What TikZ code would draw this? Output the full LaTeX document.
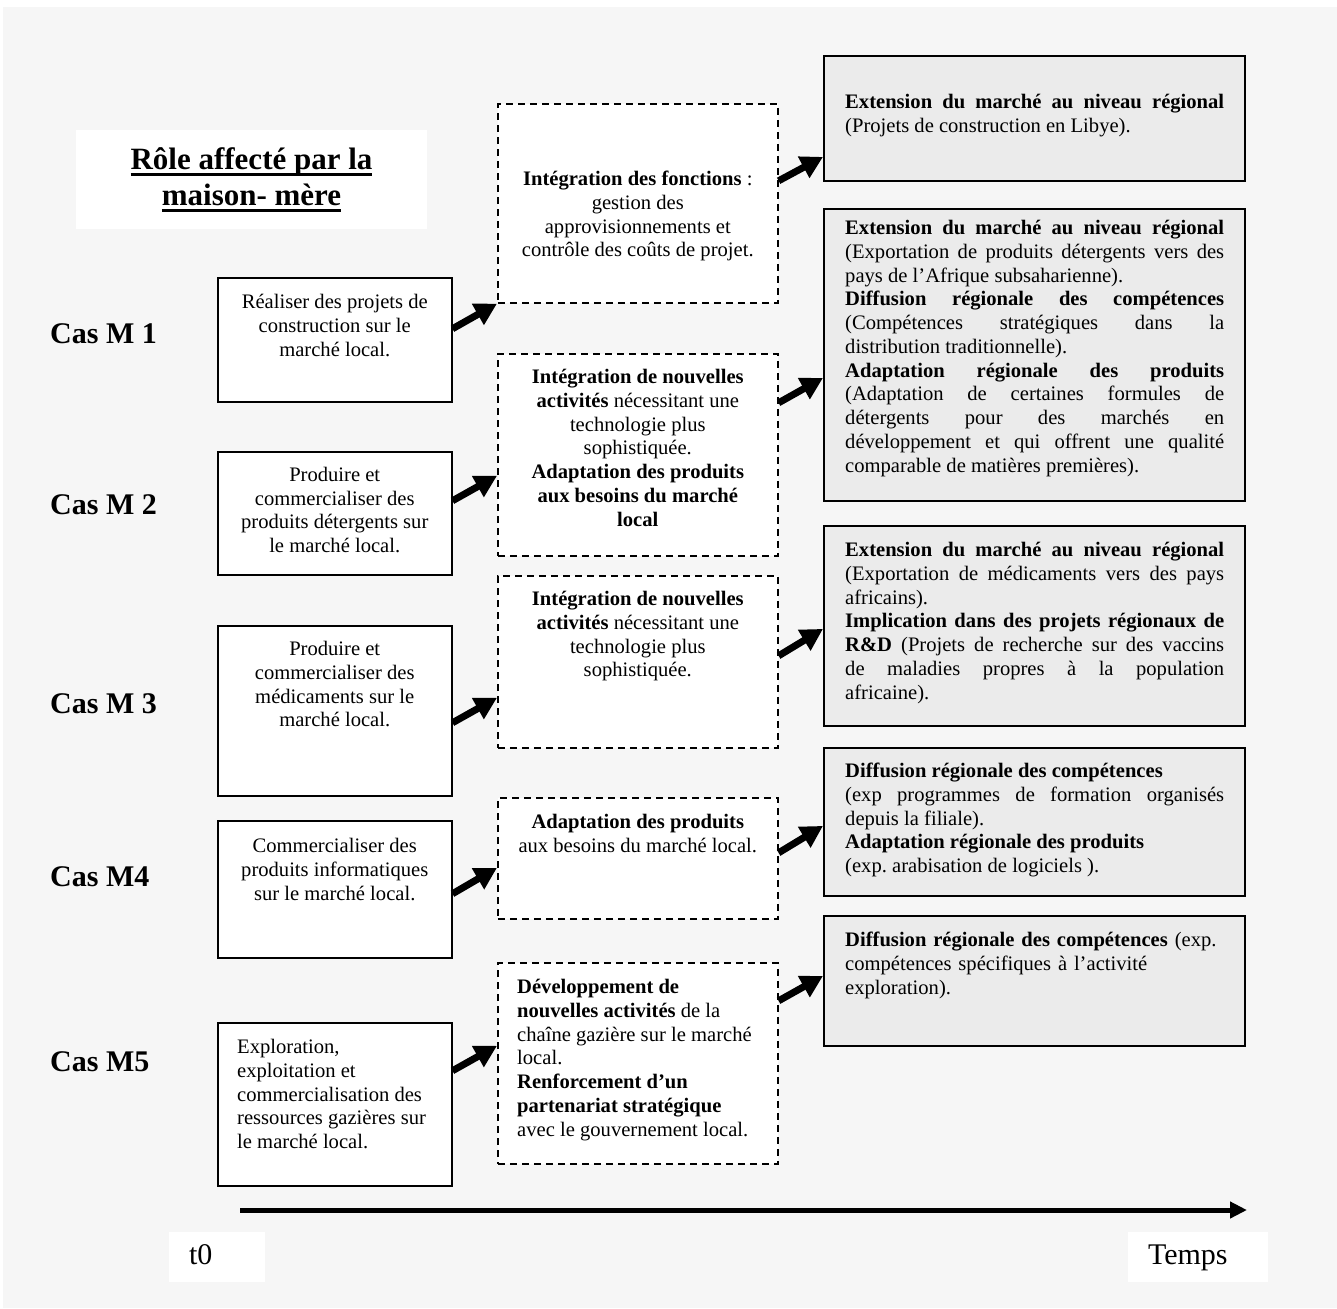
\documentclass[tikz,border=0pt]{standalone}
\usepackage{fontspec}
\setmainfont{Liberation Serif}
\usetikzlibrary{positioning}
\usetikzlibrary{arrows.meta}

\definecolor{pagegrey}{gray}{0.965}
\definecolor{boxgrey}{gray}{0.92}

\newcommand{\txtsize}{\fontsize{20.6}{23.75}\selectfont}
\newcommand{\bigsize}{\fontsize{30}{36}\selectfont}
\newcommand{\titlesize}{\fontsize{31}{36}\selectfont}
\newsavebox{\ulbox}
\newcommand{\ulined}[1]{\sbox{\ulbox}{#1}\rlap{\rule[-6.4pt]{\wd\ulbox}{2.2pt}}\usebox{\ulbox}}
\newcommand{\loosepar}{\tolerance=10000 \hyphenpenalty=10000\relax}
\frenchspacing

\begin{document}
\begin{tikzpicture}[x=1pt,y=-1pt]
	\tikzstyle{leftbox}=[draw,fill=white,line width=1.5pt,minimum width=234pt,anchor=north west,inner sep=0pt]
	\tikzstyle{midbox}=[draw,fill=white,line width=1.6pt,dash pattern=on 7pt off 5pt,minimum width=280pt,anchor=north west,inner sep=0pt]
	\tikzstyle{rightbox}=[draw,fill=boxgrey,line width=1.8pt,minimum width=421pt,anchor=north west,inner sep=0pt]
	\tikzstyle{boxtext}=[inner sep=0pt,font=\txtsize,align=center]
	\tikzstyle{lefttext}=[inner sep=0pt,font=\txtsize,align=left]
	\tikzstyle{regtext}=[inner sep=0pt,font=\txtsize\loosepar,text width=379pt,align=justify]
	\tikzstyle{caslabel}=[anchor=base west,inner sep=0pt,font=\bigsize\bfseries]
	\tikzstyle{timebox}=[fill=white,minimum height=50pt,inner xsep=20pt,align=left,font=\bigsize,text height=20pt,text depth=6pt]
	\tikzstyle{bigarrow}=[draw,line width=7pt,-{Triangle[length=22pt,width=23pt]}]
	\tikzstyle{timearrow}=[line width=5pt,-{Triangle[length=17pt,width=16pt]}]
	
	\useasboundingbox (0,0) rectangle (1337,1308);
	\fill[white] (0,0) rectangle (1337,1308);
	\fill[pagegrey] (3,7) rectangle (1337,1308);
	
	% titre
	\node[fill=white,minimum width=351pt,minimum height=99pt,inner sep=0pt,align=center,font=\titlesize\bfseries] (title) at (251.5,179.5)
		{\ulined{Rôle affecté par la}\\\ulined{maison- mère}};
	
	% cas
	\node[caslabel] (cas_1) at (50,343)  {Cas M 1};
	\node[caslabel] (cas_2) at (50,514)  {Cas M 2};
	\node[caslabel] (cas_3) at (50,713)  {Cas M 3};
	\node[caslabel] (cas_4) at (50,886)  {Cas M4};
	\node[caslabel] (cas_5) at (50,1071) {Cas M5};
	
	% situation initiale
	\node[leftbox] (M_1) [minimum height=124pt] at (217,277)  {};
	\node[leftbox] (M_2) [minimum height=123pt] at (217,451)  {};
	\node[leftbox] (M_3) [minimum height=170pt] at (217,625)  {};
	\node[leftbox] (M_4) [minimum height=137pt] at (217,820)  {};
	\node[leftbox] (M_5) [minimum height=163pt] at (217,1022) {};
	
	\node[boxtext] (tM_1) [below=17pt of M_1.north] {Réaliser des projets de\\construction sur le\\marché local.};
	\node[boxtext] (tM_2) [below=16pt of M_2.north] {Produire et\\commercialiser des\\produits détergents sur\\le marché local.};
	\node[boxtext] (tM_3) [below=16pt of M_3.north] {Produire et\\commercialiser des\\médicaments sur le\\marché local.};
	\node[boxtext] (tM_4) [below=18pt of M_4.north] {Commercialiser des\\produits informatiques\\sur le marché local.};
	\node[lefttext] (tM_5) [below right=17pt and 20pt of M_5.north west] {Exploration,\\exploitation et\\commercialisation des\\ressources gazières sur\\le marché local.};
	
	% role au niveau local
	\node[midbox] (D_1) [minimum height=199pt] at (497,103) {};
	\node[midbox] (D_2) [minimum height=202pt] at (497,353) {};
	\node[midbox] (D_3) [minimum height=172pt] at (497,575) {};
	\node[midbox] (D_4) [minimum height=121pt] at (497,797) {};
	\node[midbox] (D_5) [minimum height=201pt] at (497,962) {};
	
	\node[boxtext] (tD_1) [below=68pt of D_1.north] {\textbf{Intégration des fonctions} :\\gestion des\\approvisionnements et\\contrôle des coûts de projet.};
	\node[boxtext] (tD_2) [below=16pt of D_2.north] {\textbf{Intégration de nouvelles}\\\textbf{activités} nécessitant une\\technologie plus\\sophistiquée.\\\textbf{Adaptation des produits}\\\textbf{aux besoins du marché}\\\textbf{local}};
	\node[boxtext] (tD_3) [below=16pt of D_3.north] {\textbf{Intégration de nouvelles}\\\textbf{activités} nécessitant une\\technologie plus\\sophistiquée.};
	\node[boxtext] (tD_4) [below=17pt of D_4.north] {\textbf{Adaptation des produits}\\aux besoins du marché local.};
	\node[lefttext] (tD_5) [below right=17pt and 20pt of D_5.north west] {\textbf{Développement de}\\\textbf{nouvelles activités} de la\\chaîne gazière sur le marché\\local.\\\textbf{Renforcement d’un}\\\textbf{partenariat stratégique}\\avec le gouvernement local.};
	
	% role au niveau regional
	\node[rightbox] (R_1) [minimum height=125pt] at (823,55)  {};
	\node[rightbox] (R_2) [minimum height=292pt] at (823,208) {};
	\node[rightbox] (R_3) [minimum height=200pt] at (823,525) {};
	\node[rightbox] (R_4) [minimum height=148pt] at (823,747) {};
	\node[rightbox] (R_5) [minimum height=130pt] at (823,915) {};
	
	\node[regtext] (tR_1) [below right=39pt and 22pt of R_1.north west] {\textbf{Extension du marché au niveau régional}\linebreak
		(Projets de construction en Libye).};
	\node[regtext] (tR_2) [below right=12pt and 22pt of R_2.north west] {\textbf{Extension du marché au niveau régional}\linebreak
		(Exportation de produits détergents vers des\linebreak
		pays de l’Afrique subsaharienne).\\
		\textbf{Diffusion régionale des compétences}\linebreak
		(Compétences stratégiques dans la\linebreak
		distribution traditionnelle).\\
		\textbf{Adaptation régionale des produits}\linebreak
		(Adaptation de certaines formules de\linebreak
		détergents pour des marchés en\linebreak
		développement et qui offrent une qualité\linebreak
		comparable de matières premières).};
	\node[regtext] (tR_3) [below right=17pt and 22pt of R_3.north west] {\textbf{Extension du marché au niveau régional}\linebreak
		(Exportation de médicaments vers des pays\linebreak
		africains).\\
		\textbf{Implication dans des projets régionaux de}\linebreak
		\textbf{R\&D} (Projets de recherche sur des vaccins\linebreak
		de maladies propres à la population\linebreak
		africaine).};
	\node[regtext] (tR_4) [below right=16pt and 22pt of R_4.north west] {\textbf{Diffusion régionale des compétences}\\
		(exp programmes de formation organisés\linebreak
		depuis la filiale).\\
		\textbf{Adaptation régionale des produits}\\
		(exp. arabisation de logiciels ).};
	\node[lefttext,text width=379pt] (tR_5) [below right=17pt and 22pt of R_5.north west] {\textbf{Diffusion régionale des compétences} (exp.\\
		compétences spécifiques à l’activité\\
		exploration).};
	
	\path ([yshift=11pt]M_1.east)    edge[bigarrow] (D_1.south west)
		([yshift=12.5pt]M_2.east)  edge[bigarrow] ([yshift=-21pt]D_2.west)
		([yshift=-12pt]M_3.east)   edge[bigarrow] ([yshift=-36pt]D_3.west)
		([yshift=-4.5pt]M_4.east)  edge[bigarrow] ([yshift=-9.5pt]D_4.west)
		([yshift=33.5pt]M_5.east)  edge[bigarrow] ([yshift=17.5pt]D_5.west)
		([yshift=22.5pt]D_1.east)  edge[bigarrow] ([yshift=-38.5pt]R_1.west)
		([yshift=52pt]D_2.east)    edge[bigarrow] ([yshift=-23pt]R_2.west)
		([yshift=6pt]D_3.east)     edge[bigarrow] ([yshift=-3pt]R_3.west)
		([yshift=5.5pt]D_4.east)   edge[bigarrow] ([yshift=-4pt]R_4.west)
		([yshift=62.5pt]D_5.east)  edge[bigarrow] ([yshift=5pt]R_5.west);
	
	% axe du temps
	\coordinate (t_start) at (240,1210);
	\coordinate (t_end)   at (1247,1210);
	\draw[timearrow] (t_start) -- (t_end);
	\node[timebox,text width=56pt]  (t_0)   at (217,1257)  {t0};
	\node[timebox,text width=100pt] (temps) at (1198,1257) {Temps};
\end{tikzpicture}
\end{document}
